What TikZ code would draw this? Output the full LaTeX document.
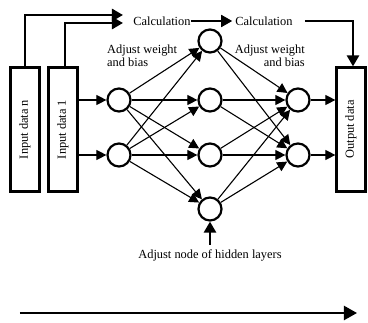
\documentclass[tikz,border=0pt]{standalone}
\usepackage{fontspec}
\setmainfont{Liberation Serif}
\usetikzlibrary{arrows.meta}
\begin{document}
\begin{tikzpicture}[x=1pt,y=-1pt,
  neuron/.style={circle,draw,line width=2.2pt,minimum size=23pt,inner sep=0pt},
  databox/.style={draw,line width=2.2pt,minimum width=29pt,minimum height=124pt,inner sep=0pt},
  link/.style={line width=1.1pt,-{Triangle[length=10pt,width=10pt]}},
  flow/.style={line width=2.6pt,-{Triangle[length=11pt,width=12pt]}},
  lbl/.style={font=\fontsize{12.4}{13}\selectfont,inner sep=0pt},
  boxtext/.style={font=\fontsize{12.4}{13}\selectfont}
]
\useasboundingbox (0,0) rectangle (368,323);

% data boxes
\node[databox] (inN) at (25,129.5) {\rotatebox{90}{\fontsize{12.4}{13}\selectfont Input data n}};
\node[databox] (in1) at (63,129.5) {\rotatebox{90}{\fontsize{12.4}{13}\selectfont Input data 1}};
\node[databox] (out) at (351,129.5) {\rotatebox{90}{\fontsize{12.4}{13}\selectfont Output data}};

% neurons
\node[neuron] (i1) at (119,100) {};
\node[neuron] (i2) at (119,155) {};
\node[neuron] (h1) at (210,41) {};
\node[neuron] (h2) at (210,100) {};
\node[neuron] (h3) at (210,155) {};
\node[neuron] (h4) at (210,209) {};
\node[neuron] (o1) at (298,100) {};
\node[neuron] (o2) at (298,155) {};

% labels
\node[lbl] (calc1) at (162,21) {Calculation};
\node[lbl] (calc2) at (264,21) {Calculation};
\node[lbl,align=left,anchor=north west] (adjL) at (107,45) {Adjust weight\\and bias};
\node[lbl,align=right,anchor=north east] (adjR) at (305,45) {Adjust weight\\and bias};
\node[lbl] (adjH) at (210,255) {Adjust node of hidden layers};

% inputs into the first layer
\draw[link] (in1.east |- i1) -- (i1);
\draw[link] (in1.east |- i2) -- (i2);

% fully connected layers
\foreach \a in {i1,i2}
  \foreach \b in {h1,h2,h3,h4}
    \draw[link] (\a) -- (\b);
\foreach \a in {h1,h2,h3,h4}
  \foreach \b in {o1,o2}
    \draw[link] (\a) -- (\b);

% outputs into the output box
\draw[link] (o1) -- (out.west |- o1);
\draw[link] (o2) -- (out.west |- o2);

% calculation flow along the top
\coordinate (tN) at (25,15);
\coordinate (t1) at (65,23);
\draw[flow] (inN.north) -- (tN) -- (123,15);
\draw[flow] ([xshift=2pt]in1.north) -- (t1) -- (123,23);
\draw[flow,line width=1.8pt] (calc1.east) -- ([xshift=-3pt]calc2.west);
\draw[flow] ([xshift=12pt]calc2.east) -| ([xshift=2pt]out.north);

% hidden-layer adjustment
\coordinate (hb) at (210,245);
\draw[flow] (hb) -- (h4.south);

% direction arrow
\coordinate (dirA) at (20,313);
\coordinate (dirB) at (357,313);
\draw[flow,line width=2.2pt,-{Triangle[length=13pt,width=14pt]}] (dirA) -- (dirB);
\end{tikzpicture}
\end{document}
